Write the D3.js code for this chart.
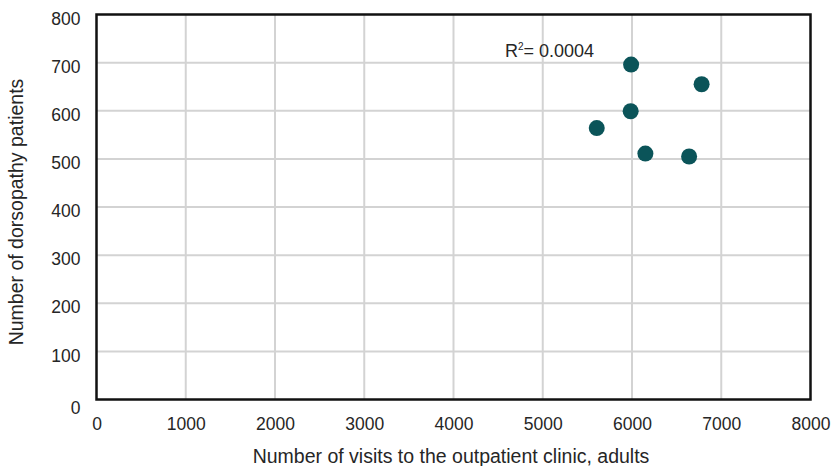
<!DOCTYPE html>
<html>
<head>
<meta charset="utf-8">
<script src="https://cdn.jsdelivr.net/npm/d3@7"></script>
<style>
  html, body { margin: 0; padding: 0; background: #fff; }
  svg { display: block; font-family: "Liberation Sans", Arial, Helvetica, sans-serif; }
</style>
</head>
<body>
<svg id="chart" width="833" height="466"></svg>
<script>
// Outpatient visits (adults) vs. dorsopathy patients, one point per unit
const visits   = [5990, 6780, 5985, 5605, 6150, 6640];
const patients = [696, 655, 599, 564, 511, 505];
const xTicks = [0, 1000, 2000, 3000, 4000, 5000, 6000, 7000, 8000];
const yTicks = [0, 100, 200, 300, 400, 500, 600, 700, 800];
const rSquaredLabel = "0.0004";

(function () {
const svg = d3.select("#chart");
const plotLeft = 96.5, plotRight = 810.5, plotTop = 14.5, plotBottom = 399.5;
const textColor = "#262626";

const x = d3.scaleLinear().domain([0, 8000]).range([plotLeft, plotRight]);
const y = d3.scaleLinear().domain([0, 800]).range([plotBottom, plotTop]);

// grid lines
const grid = svg.append("g");
grid.selectAll("line.v").data(xTicks.slice(1, -1)).join("line")
  .attr("class", "v")
  .attr("x1", d => x(d)).attr("x2", d => x(d))
  .attr("y1", plotTop).attr("y2", plotBottom)
  .attr("stroke", "#d3d3d3").attr("stroke-width", 2);
grid.selectAll("line.h").data(yTicks.slice(1, -1)).join("line")
  .attr("class", "h")
  .attr("x1", plotLeft).attr("x2", plotRight)
  .attr("y1", d => y(d)).attr("y2", d => y(d))
  .attr("stroke", "#d3d3d3").attr("stroke-width", 2);

// axes (labels only; the frame is drawn separately)
const xAxis = svg.append("g")
  .attr("transform", `translate(0,${plotBottom})`)
  .call(d3.axisBottom(x).tickValues(xTicks).tickSize(0).tickPadding(18).tickFormat(d3.format("d")));
const yAxis = svg.append("g")
  .attr("transform", `translate(${plotLeft},0)`)
  .call(d3.axisLeft(y).tickValues(yTicks).tickSize(0).tickPadding(16).tickFormat(d3.format("d")));
[xAxis, yAxis].forEach(a => {
  a.select(".domain").remove();
  a.selectAll("text").attr("font-size", 17.5).attr("fill", textColor)
    .attr("font-family", "Liberation Sans, Arial, sans-serif");
});
yAxis.selectAll("text").attr("dy", d => d === 0 ? "0.78em" : "0.55em");

// frame
svg.append("rect")
  .attr("x", plotLeft).attr("y", plotTop)
  .attr("width", plotRight - plotLeft).attr("height", plotBottom - plotTop)
  .attr("fill", "none").attr("stroke", "#111").attr("stroke-width", 2.5);

// points
svg.append("g").selectAll("circle").data(visits).join("circle")
  .attr("cx", d => x(d))
  .attr("cy", (d, i) => y(patients[i]))
  .attr("r", 8)
  .attr("fill", "#0b5459");

// R² annotation
const ann = svg.append("text")
  .attr("x", 505).attr("y", 57)
  .attr("font-size", 18).attr("fill", textColor);
ann.append("tspan").text("R");
ann.append("tspan").text("2").attr("font-size", 10).attr("dy", -7);
ann.append("tspan").text("= " + rSquaredLabel).attr("dy", 7);

// axis titles
svg.append("text")
  .attr("x", 451).attr("y", 463)
  .attr("text-anchor", "middle")
  .attr("font-size", 19.5).attr("fill", textColor)
  .text("Number of visits to the outpatient clinic, adults");
svg.append("text")
  .attr("transform", "translate(23,212) rotate(-90)")
  .attr("text-anchor", "middle")
  .attr("font-size", 19.5).attr("fill", textColor)
  .text("Number of dorsopathy patients");
})();
</script>
</body>
</html>
